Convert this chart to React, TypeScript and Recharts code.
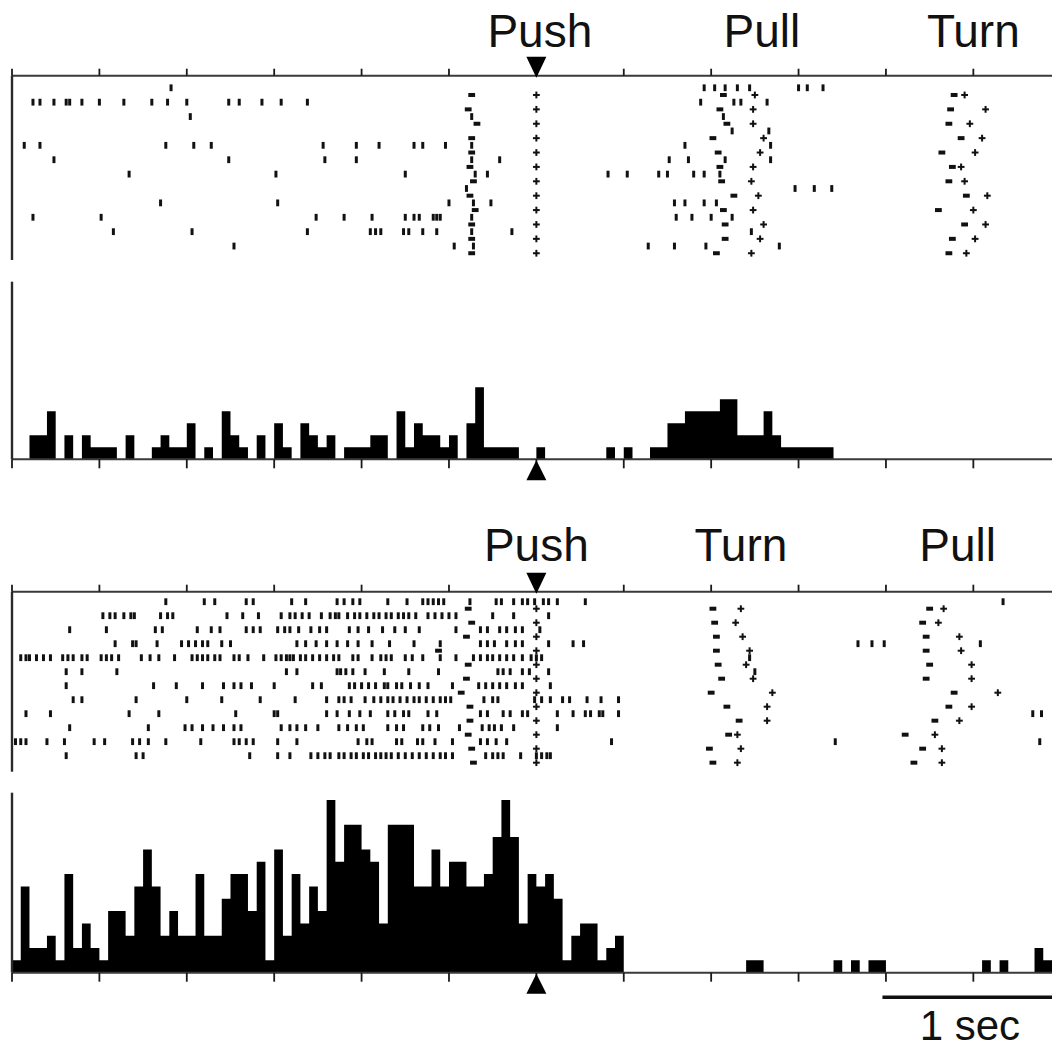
import React from 'react';
import { ScatterChart, Scatter, ComposedChart, Area, XAxis, YAxis, ReferenceDot, ReferenceLine } from 'recharts';

// ---- time axis (seconds, aligned on Push) ----
const T_MIN = -3;
const T_MAX = 2.95;
const TIME_TICKS = [-3, -2.5, -2, -1.5, -1, -0.5, 0, 0.5, 1, 1.5, 2, 2.5];
const PUSH_TIME = 0;
const BIN_START = -3;
const BIN_WIDTH = 0.05;

// ---- event labels ----
const PANEL1_LABELS = [
  { name: 'Push', t: 0.02 },
  { name: 'Pull', t: 1.29 },
  { name: 'Turn', t: 2.5 },
];
const PANEL2_LABELS = [
  { name: 'Push', t: 0.0 },
  { name: 'Turn', t: 1.17 },
  { name: 'Pull', t: 2.41 },
];

// ---- panel 1 raster: spike times per trial (s) ----
const RASTER1_SPIKES: number[][] = [
  [-2.09, 0.96, 1.02, 1.08, 1.15, 1.22, 1.5, 1.55, 1.64],
  [-2.88, -2.84, -2.76, -2.69, -2.67, -2.6, -2.5, -2.36, -2.2, -2.11, -2.0, -1.76, -1.7, -1.57, -1.46, -1.31, 0.94, 1.13, 1.17, 1.32],
  [-1.98, -0.37, 1.07],
  [1.12, 1.33],
  [-2.93, -2.84, -2.12, -1.96, -1.86, -1.22, -1.03, -0.9, -0.7, -0.65, -0.52, -0.37, 0.85, 1.34],
  [-2.76, -1.76, -1.21, -1.03, -0.37, -0.21, 0.76, 0.87, 1.08, 1.34],
  [-2.33, -1.49, -0.75, -0.35, -0.28, 0.41, 0.52, 0.7, 0.75, 0.9, 0.96, 1.05],
  [-0.4, 1.48, 1.59, 1.69],
  [-2.15, -1.48, -0.5, -0.36, -0.26, 0.79, 0.85, 0.96, 1.03],
  [-2.88, -2.49, -1.26, -1.1, -0.94, -0.75, -0.7, -0.67, -0.59, -0.57, -0.55, -0.37, 0.8, 0.89, 1.0, 1.12],
  [-2.42, -1.97, -1.31, -0.95, -0.92, -0.89, -0.76, -0.73, -0.65, -0.57, -0.37, -0.14, 1.23],
  [-1.73, -0.47, -0.36, 0.64, 0.79, 0.97, 1.39],
];
// event markers per trial (s)
const RASTER1_ONSET = [-0.37, -0.39, -0.34, -0.37, -0.37, -0.38, -0.36, -0.38, -0.35, -0.37, -0.37, -0.37];
const RASTER1_PULL_DASH = [1.07, 1.05, 1.09, 1.01, 1.04, 1.05, 1.06, 1.13, 1.07, 1.08, 1.08, 1.03];
const RASTER1_PULL_PLUS = [1.25, 1.24, 1.24, 1.3, 1.28, 1.24, 1.23, 1.27, 1.24, 1.3, 1.28, 1.23];
const RASTER1_TURN_DASH = [2.39, 2.37, 2.36, 2.43, 2.32, 2.38, 2.36, 2.46, 2.3, 2.45, 2.38, 2.36];
const RASTER1_TURN_PLUS = [2.45, 2.57, 2.48, 2.55, 2.51, 2.43, 2.45, 2.58, 2.5, 2.57, 2.51, 2.46];

// ---- panel 1 histogram: counts per 50 ms bin from -3 s ----
const HIST1_COUNTS = [
  0, 0, 2, 2, 4, 0, 2, 0, 2, 1, 1, 1, 0, 2, 0, 0, 1, 2, 1, 1,
  3, 0, 1, 0, 4, 2, 1, 0, 2, 0, 3, 1, 0, 3, 2, 1, 2, 0, 1, 1,
  1, 2, 2, 0, 4, 1, 3, 2, 2, 1, 2, 0, 3, 6, 1, 1, 1, 1, 0, 0,
  1, 0, 0, 0, 0, 0, 0, 0, 1, 0, 1, 0, 0, 1, 1, 3, 3, 4, 4, 4,
  4, 5, 5, 2, 2, 2, 4, 2, 1, 1, 1, 1, 1, 1, 0, 0, 0, 0, 0, 0,
  0, 0, 0, 0, 0, 0, 0, 0, 0, 0, 0, 0, 0, 0, 0, 0, 0, 0, 0,
];

// ---- panel 2 raster ----
const RASTER2_SPIKES: number[][] = [
  [-2.12, -1.9, -1.84, -1.66, -1.62, -1.4, -1.32, -1.14, -1.1, -1.05, -1.01, -0.85, -0.74, -0.65, -0.62, -0.59, -0.56, -0.53, -0.38, -0.23, -0.2, -0.13, -0.08, -0.05, -0.01, 0.04, 0.07, 0.12, 0.28, 2.67],
  [-2.48, -2.44, -2.41, -2.36, -2.32, -2.3, -2.15, -2.11, -2.08, -1.77, -1.68, -1.59, -1.46, -1.41, -1.38, -1.34, -1.3, -1.23, -1.18, -1.15, -1.13, -1.08, -1.04, -1.01, -0.97, -0.93, -0.9, -0.86, -0.83, -0.79, -0.76, -0.73, -0.69, -0.62, -0.58, -0.54, -0.5, -0.46, -0.25, -0.13, 0.07],
  [-2.67, -2.46, -2.18, -2.14, -1.94, -1.86, -1.81, -1.66, -1.62, -1.58, -1.48, -1.44, -1.41, -1.36, -1.29, -1.24, -1.2, -1.07, -1.02, -0.96, -0.88, -0.81, -0.75, -0.67, -0.46, -0.32, -0.28, -0.21, -0.17, -0.12, -0.08, 0.02],
  [-2.41, -2.31, -2.29, -2.17, -2.03, -1.99, -1.95, -1.91, -1.88, -1.8, -1.75, -1.37, -1.32, -1.26, -1.2, -1.14, -1.08, -1.02, -0.94, -0.84, -0.7, -0.55, -0.32, -0.28, -0.24, -0.17, -0.12, -0.08, 0.07, 0.21, 0.27, 1.84, 1.92, 1.99, 2.54],
  [-2.95, -2.92, -2.9, -2.86, -2.82, -2.78, -2.71, -2.68, -2.65, -2.6, -2.57, -2.49, -2.46, -2.43, -2.39, -2.26, -2.21, -2.16, -2.07, -1.97, -1.94, -1.91, -1.88, -1.84, -1.81, -1.73, -1.7, -1.65, -1.56, -1.49, -1.46, -1.43, -1.41, -1.39, -1.35, -1.32, -1.28, -1.24, -1.2, -1.16, -1.13, -1.05, -1.02, -0.94, -0.89, -0.86, -0.83, -0.75, -0.71, -0.65, -0.55, -0.46, -0.36, -0.32, -0.28, -0.25, -0.21, -0.17, -0.13, -0.08, -0.03, 0.0, 0.03, 1.22],
  [-2.69, -2.6, -2.4, -1.43, -1.37, -1.14, -1.12, -1.09, -1.05, -0.98, -0.87, -0.73, -0.56, -0.22, -0.19, -0.15, -0.08, -0.04, 0.07, 1.25],
  [-2.69, -2.19, -2.06, -1.91, -1.79, -1.73, -1.69, -1.63, -1.5, -1.28, -1.23, -1.07, -1.04, -1.0, -0.96, -0.92, -0.87, -0.85, -0.8, -0.77, -0.72, -0.67, -0.62, -0.48, -0.33, -0.29, -0.25, -0.21, -0.17, -0.12, -0.08, 0.08],
  [-2.65, -2.6, -2.29, -2.0, -1.8, -1.58, -1.38, -1.2, -1.13, -1.1, -1.06, -0.98, -0.93, -0.89, -0.85, -0.82, -0.78, -0.74, -0.7, -0.67, -0.63, -0.59, -0.55, -0.52, -0.49, -0.3, -0.25, -0.22, -0.01, 0.03, 0.08, 0.15, 0.19, 0.29, 0.37, 0.47],
  [-2.92, -2.78, -2.33, -2.16, -1.72, -1.5, -1.48, -1.2, -1.14, -1.07, -1.01, -0.95, -0.85, -0.81, -0.76, -0.73, -0.62, -0.57, -0.32, -0.28, -0.19, -0.15, -0.08, -0.05, 0.12, 0.21, 0.28, 0.31, 0.36, 0.38, 0.47, 2.84, 2.89],
  [-2.67, -2.22, -2.01, -1.97, -1.91, -1.85, -1.79, -1.73, -1.69, -1.46, -1.41, -1.37, -1.32, -1.25, -1.13, -1.08, -1.03, -0.99, -0.85, -0.8, -0.76, -0.65, -0.61, -0.56, -0.44, -0.31, -0.27, -0.24, -0.2, -0.13, 0.12],
  [-2.98, -2.95, -2.92, -2.8, -2.7, -2.53, -2.47, -2.31, -2.27, -2.22, -2.12, -1.92, -1.73, -1.7, -1.66, -1.62, -1.48, -1.37, -1.02, -0.97, -0.94, -0.8, -0.77, -0.68, -0.65, -0.58, -0.48, -0.32, -0.28, -0.23, -0.17, 0.43, 1.71, 2.88],
  [-2.69, -2.29, -2.25, -1.64, -1.48, -1.41, -1.29, -1.25, -1.21, -1.18, -1.13, -1.1, -1.06, -1.03, -0.99, -0.96, -0.92, -0.89, -0.86, -0.83, -0.79, -0.75, -0.71, -0.67, -0.63, -0.59, -0.55, -0.52, -0.48, -0.29, -0.25, -0.22, -0.19, -0.09, 0.0, 0.03, 0.06, 0.08],
];
const RASTER2_ONSET = [-0.39, -0.37, -0.4, -0.56, -0.39, -0.4, -0.43, -0.38, -0.38, -0.39, -0.37, -0.36];
const RASTER2_TURN_DASH = [1.01, 1.02, 1.03, 1.03, 1.04, 1.06, 1.0, 1.09, 1.16, 1.1, 0.99, 1.01];
const RASTER2_TURN_PLUS = [1.17, 1.14, 1.18, 1.22, 1.2, 1.24, 1.35, 1.32, 1.32, 1.15, 1.17, 1.15];
const RASTER2_PULL_DASH = [2.25, 2.21, 2.23, 2.23, 2.25, 2.23, 2.39, 2.36, 2.28, 2.11, 2.21, 2.16];
const RASTER2_PULL_PLUS = [2.33, 2.3, 2.42, 2.43, 2.49, 2.49, 2.64, 2.49, 2.42, 2.28, 2.32, 2.32];

// ---- panel 2 histogram ----
const HIST2_COUNTS = [
  1, 7, 2, 2, 3, 1, 8, 2, 4, 2, 1, 5, 5, 3, 7, 10, 7, 3, 5, 3,
  3, 8, 3, 3, 6, 8, 8, 5, 9, 1, 10, 3, 8, 4, 7, 5, 14, 9, 12, 12,
  10, 9, 4, 12, 12, 12, 7, 7, 10, 7, 9, 9, 7, 7, 8, 11, 14, 11, 4, 8,
  7, 8, 6, 1, 3, 4, 4, 1, 2, 3, 0, 0, 0, 0, 0, 0, 0, 0, 0, 0,
  0, 0, 0, 0, 1, 1, 0, 0, 0, 0, 0, 0, 0, 0, 1, 0, 1, 0, 1, 1,
  0, 0, 0, 0, 0, 0, 0, 0, 0, 0, 0, 1, 0, 1, 0, 0, 0, 2, 1,
];

const SCALE_BAR = { start: 1.98, length: 1, label: '1 sec' };

// ---- builders ----
const spikePoints = (rows: number[][]) => rows.flatMap((row, i) => row.map((t) => ({ t, k: 2 * i })));
const markerPoints = (times: number[]) => times.map((t, i) => ({ t, k: 2 * i + 1 }));
const histPoints = (counts: number[]) => {
  const pts = counts.map((c, i) => ({ t: +(BIN_START + i * BIN_WIDTH).toFixed(3), c }));
  pts.push({ t: +(BIN_START + counts.length * BIN_WIDTH).toFixed(3), c: 0 });
  return pts;
};

const INK = '#111';
const FONT = "'Liberation Sans', Arial, Helvetica, sans-serif";

const Spike = (p: any) => <rect x={p.cx - 1.5} y={p.cy - 3.4} width={3} height={6.8} fill={INK} />;
const Dash = (p: any) => <rect x={p.cx - 3.4} y={p.cy - 2} width={6.8} height={4} fill={INK} />;
const Plus = (p: any) => (
  <g>
    <rect x={p.cx - 3.4} y={p.cy - 1} width={6.8} height={2} fill={INK} />
    <rect x={p.cx - 1} y={p.cy - 3.4} width={2} height={6.8} fill={INK} />
  </g>
);
const DownTri = (p: any) => (
  <polygon points={`${p.cx - 10},${p.cy - 19} ${p.cx + 10},${p.cy - 19} ${p.cx},${p.cy + 2}`} fill="#000" />
);
const UpTri = (p: any) => (
  <polygon points={`${p.cx - 10},${p.cy + 21} ${p.cx + 10},${p.cy + 21} ${p.cx},${p.cy + 1}`} fill="#000" />
);
const NoLabel = () => <g />;

const AXIS_LINE = { stroke: '#3a3a3a', strokeWidth: 2 };
const TICK_LINE = { stroke: '#1a1a1a', strokeWidth: 1.8 };
const LEFT_LINE = { stroke: '#2a2a2a', strokeWidth: 2.4 };

type RasterProps = {
  spikes: number[][];
  onset: number[];
  dashA: number[];
  plusA: number[];
  dashB: number[];
  plusB: number[];
  labels: { name: string; t: number }[];
  yDomain: [number, number];
  height: number;
  marginTop: number;
  marginBottom: number;
  labelLift: number;
};

function Raster(props: RasterProps) {
  const { spikes, onset, dashA, plusA, dashB, plusB, labels, yDomain, height, marginTop, marginBottom, labelLift } = props;
  const pushMarks = onset.map(() => PUSH_TIME);
  return (
    <ScatterChart width={1052} height={height} margin={{ top: marginTop, right: 0, bottom: marginBottom, left: 11 }}>
      <XAxis
        type="number"
        dataKey="t"
        domain={[T_MIN, T_MAX]}
        ticks={TIME_TICKS}
        interval={0}
        orientation="top"
        height={1}
        tick={NoLabel}
        tickSize={7}
        axisLine={AXIS_LINE}
        tickLine={TICK_LINE}
        allowDataOverflow
      />
      <YAxis
        type="number"
        dataKey="k"
        domain={yDomain}
        reversed
        width={1}
        tick={false}
        tickLine={false}
        axisLine={LEFT_LINE}
        allowDataOverflow
      />
      <Scatter data={spikePoints(spikes)} shape={Spike} isAnimationActive={false} />
      <Scatter data={markerPoints(onset)} shape={Dash} isAnimationActive={false} />
      <Scatter data={markerPoints(pushMarks)} shape={Plus} isAnimationActive={false} />
      <Scatter data={markerPoints(dashA)} shape={Dash} isAnimationActive={false} />
      <Scatter data={markerPoints(plusA)} shape={Plus} isAnimationActive={false} />
      <Scatter data={markerPoints(dashB)} shape={Dash} isAnimationActive={false} />
      <Scatter data={markerPoints(plusB)} shape={Plus} isAnimationActive={false} />
      <ReferenceDot x={PUSH_TIME} y={yDomain[0]} ifOverflow="visible" shape={DownTri} />
      {labels.map((l) => (
        <ReferenceDot
          key={l.name}
          x={l.t}
          y={yDomain[0]}
          ifOverflow="visible"
          shape={(p: any) => (
            <text x={p.cx} y={p.cy - labelLift} textAnchor="middle" fontSize={46} fontFamily={FONT} fill={INK}>
              {l.name}
            </text>
          )}
        />
      ))}
    </ScatterChart>
  );
}

type HistProps = {
  counts: number[];
  yMax: number;
  height: number;
  marginTop: number;
  marginBottom: number;
  scaleBar?: boolean;
};

function Histogram(props: HistProps) {
  const { counts, yMax, height, marginTop, marginBottom, scaleBar } = props;
  return (
    <ComposedChart width={1052} height={height} data={histPoints(counts)} margin={{ top: marginTop, right: 0, bottom: marginBottom, left: 11 }}>
      <XAxis
        type="number"
        dataKey="t"
        domain={[T_MIN, T_MAX]}
        ticks={TIME_TICKS}
        interval={0}
        height={1}
        tick={NoLabel}
        tickSize={9}
        axisLine={AXIS_LINE}
        tickLine={TICK_LINE}
        allowDataOverflow
      />
      <YAxis type="number" domain={[0, yMax]} width={1} tick={false} tickLine={false} axisLine={LEFT_LINE} allowDataOverflow />
      <Area
        type="stepAfter"
        dataKey="c"
        stroke="none"
        fill="#000"
        fillOpacity={1}
        isAnimationActive={false}
        dot={false}
        activeDot={false}
      />
      <ReferenceDot x={PUSH_TIME} y={0} ifOverflow="visible" shape={UpTri} />
      {scaleBar && (
        <ReferenceLine
          segment={[
            { x: SCALE_BAR.start, y: -2 },
            { x: SCALE_BAR.start + SCALE_BAR.length, y: -2 },
          ]}
          ifOverflow="visible"
          stroke={INK}
          strokeWidth={3.5}
        />
      )}
      {scaleBar && (
        <ReferenceDot
          x={SCALE_BAR.start + SCALE_BAR.length / 2}
          y={-2}
          ifOverflow="visible"
          shape={(p: any) => (
            <text x={p.cx} y={p.cy + 43} textAnchor="middle" fontSize={42} fontFamily={FONT} fill={INK}>
              {SCALE_BAR.label}
            </text>
          )}
        />
      )}
    </ComposedChart>
  );
}

export default function App() {
  return (
    <div style={{ position: 'absolute', left: 0, top: 0, width: 1052, height: 1049, background: '#fff', overflow: 'hidden' }}>
      <div style={{ position: 'absolute', left: 0, top: 0 }}>
        <Raster
          spikes={RASTER1_SPIKES}
          onset={RASTER1_ONSET}
          dashA={RASTER1_PULL_DASH}
          plusA={RASTER1_PULL_PLUS}
          dashB={RASTER1_TURN_DASH}
          plusB={RASTER1_TURN_PLUS}
          labels={PANEL1_LABELS}
          yDomain={[-1.68, 23.94]}
          height={262}
          marginTop={74.7}
          marginBottom={2}
          labelLift={29}
        />
      </div>
      <div style={{ position: 'absolute', left: 0, top: 262 }}>
        <Histogram counts={HIST1_COUNTS} yMax={14.8} height={230} marginTop={19.7} marginBottom={31.7} />
      </div>
      <div style={{ position: 'absolute', left: 0, top: 500 }}>
        <Raster
          spikes={RASTER2_SPIKES}
          onset={RASTER2_ONSET}
          dashA={RASTER2_TURN_DASH}
          plusA={RASTER2_TURN_PLUS}
          dashB={RASTER2_PULL_DASH}
          plusB={RASTER2_PULL_PLUS}
          labels={PANEL2_LABELS}
          yDomain={[-1.43, 24.29]}
          height={275}
          marginTop={90.7}
          marginBottom={3.3}
          labelLift={31}
        />
      </div>
      <div style={{ position: 'absolute', left: 0, top: 775 }}>
        <Histogram counts={HIST2_COUNTS} yMax={14.6} height={274} marginTop={17.7} marginBottom={75.3} scaleBar />
      </div>
    </div>
  );
}
